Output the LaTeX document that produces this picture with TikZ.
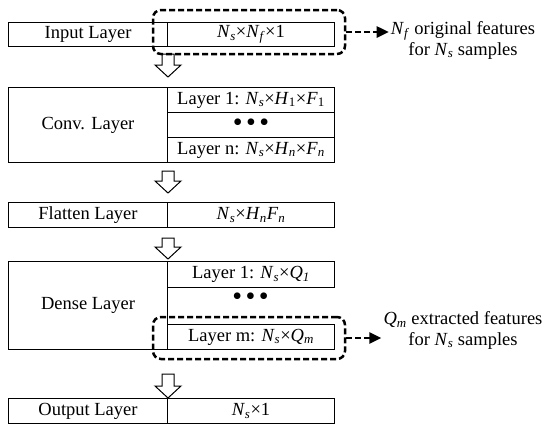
\documentclass[tikz,border=0pt]{standalone}
\usepackage{fontspec}
\setmainfont{Liberation Serif}
\usepackage{tikz}
\usetikzlibrary{arrows.meta,calc,fit}

\newcommand{\vsub}[2]{\textit{#1}\textsubscript{#2}}
% hollow arrow pointing down: from, to, start gap, end gap
\newcommand{\hollowdown}[4]{%
\draw[blockarrow] ($(#1)+(-6,#3)$) -- ($(#2)+(-6,-#4-12)$) -- ($(#2)+(-13,-#4-12)$) -- ($(#2)+(0,-#4)$) -- ($(#2)+(13,-#4-12)$) -- ($(#2)+(6,-#4-12)$) -- ($(#1)+(6,#3)$) -- cycle ;}

\tikzset{
  cell/.style={draw, line width=1pt, inner sep=0pt, anchor=north west},
  lblcell/.style={cell, minimum width=159pt},
  valcell/.style={cell, minimum width=167pt},
  blockarrow/.style={draw, fill=white, line width=1pt, line join=miter},
  selbox/.style={draw, line width=2.5pt, dash pattern=on 6pt off 3pt, rounded corners=8pt, inner sep=0pt},
  selarrow/.style={line width=2.5pt, dash pattern=on 6pt off 3pt, -{Triangle[length=12pt,width=11pt]}},
  note/.style={align=center, inner sep=2pt},
  dots/.style={inner sep=0pt, font=\fontsize{28}{28}\selectfont}
}

\begin{document}
\begin{tikzpicture}[x=1pt,y=1pt,yscale=-1,xscale=1, every node/.style={font=\fontsize{18.5}{20.5}\selectfont}]
\useasboundingbox (0,0) rectangle (550,432);

%Shape: Rectangle (input)
\node[lblcell, minimum height=24pt] (inlbl) at (8,22) {Input Layer};
\node[valcell, minimum height=24pt] (inval) at (167,22) {\vsub{N}{\textit{s}}×\vsub{N}{\textit{f}}×1};

%Shape: Rectangle (conv)
\node[lblcell, minimum height=75pt] (convlbl) at (8,87) {Conv. Layer};
\node[valcell, minimum height=25pt] (conv1) at (167,87) {Layer 1: \vsub{N}{\textit{s}}×\vsub{H}{1}×\vsub{F}{1}};
\node[valcell, minimum height=25pt] (convdots) at (167,112) {};
\node[dots] (convdotstxt) at (convdots.center) {•\hspace{3.5pt}•\hspace{3.5pt}•};
\node[valcell, minimum height=25pt] (convn) at (167,137) {Layer n: \vsub{N}{\textit{s}}×\vsub{H}{\textit{n}}×\vsub{F}{\textit{n}}};

%Shape: Rectangle (flatten)
\node[lblcell, minimum height=25pt] (flatlbl) at (8,202) {Flatten Layer};
\node[valcell, minimum height=25pt] (flatval) at (167,202) {\vsub{N}{\textit{s}}×\vsub{H}{\textit{n}}\vsub{F}{\textit{n}}};

%Shape: Rectangle (dense)
\node[lblcell, minimum height=88pt] (denselbl) at (8,261) {Dense Layer};
\node[valcell, minimum height=26pt] (dense1) at (167,261) {Layer 1: \vsub{N}{\textit{s}}×\vsub{Q}{\textit{1}}};
\node[dots] (densedots) at (250.5,299) {•\hspace{3.5pt}•\hspace{3.5pt}•};
\node[valcell, minimum height=25pt] (densem) at (167,324) {Layer m: \vsub{N}{\textit{s}}×\vsub{Q}{\textit{m}}};

%Shape: Rectangle (output)
\node[lblcell, minimum height=25pt] (outlbl) at (8,398) {Output Layer};
\node[valcell, minimum height=25pt] (outval) at (167,398) {\vsub{N}{\textit{s}}×1};

%Hollow arrows
\hollowdown{inlbl.south east}{convlbl.north east}{7}{10}
\hollowdown{convlbl.south east}{flatlbl.north east}{8}{9}
\hollowdown{flatlbl.south east}{denselbl.north east}{10}{2}
\hollowdown{denselbl.south east}{outlbl.north east}{24}{0}

%Dashed selections
\coordinate (s1a) at ($(inval.north west)+(-14,-12)$);
\coordinate (s1b) at ($(inval.south east)+(10,7)$);
\node[selbox, fit=(s1a)(s1b)] (sel1) {};
\coordinate (s2a) at ($(densem.north west)+(-14,-7)$);
\coordinate (s2b) at ($(densem.south east)+(10,9)$);
\node[selbox, fit=(s2a)(s2b)] (sel2) {};

% Text Node
\node[note] (note1) at (463,40.5) {\vsub{N}{\textit{f}} original features\\for \vsub{N}{\textit{s}} samples};
% Text Node
\node[note] (note2) at (463,330.5) {\vsub{Q}{\textit{m}} extracted features\\for \vsub{N}{\textit{s}} samples};

%Straight Lines
\draw[selarrow] (sel1.east) -- (sel1.east -| note1.west);
\draw[selarrow] (sel2.east) -- (sel2.east -| note2.west);

\end{tikzpicture}
\end{document}
